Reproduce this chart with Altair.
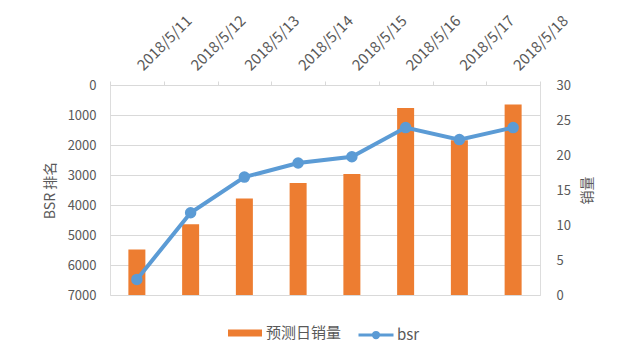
import altair as alt
import pandas as pd

dates = ["2018/5/11", "2018/5/12", "2018/5/13", "2018/5/14",
         "2018/5/15", "2018/5/16", "2018/5/17", "2018/5/18"]
sales = [6.5, 10.1, 13.8, 16.0, 17.3, 26.7, 22.1, 27.2]
bsr = [6480, 4260, 3070, 2600, 2390, 1420, 1820, 1420]
bar_name = "预测日销量"
line_name = "bsr"
bsr_ticks = [0, 1000, 2000, 3000, 4000, 5000, 6000, 7000]
sales_ticks = [0, 5, 10, 15, 20, 25, 30]

df = pd.DataFrame({"date": dates, "sales": sales, "bsr": bsr,
                   "s_bar": bar_name, "s_line": line_name})

FONT = "Noto Sans CJK SC"
GRAY = "#595959"
GRID = "#D9D9D9"
ORANGE = "#ED7D31"
BLUE = "#5B9BD5"

x_enc = alt.X("date:N", sort=dates,
              scale=alt.Scale(paddingInner=0, paddingOuter=0),
              axis=alt.Axis(orient="top", title=None, labelAngle=315,
                            labelAlign="left", labelBaseline="alphabetic",
                            tickBand="extent", tickColor=GRID, tickSize=4,
                            domainColor=GRID, labelColor=GRAY, labelFont=FONT,
                            labelFontSize=15, labelPadding=10, labelOffset=6))

bars = alt.Chart(df).mark_bar(width=17).encode(
    x=x_enc,
    y=alt.Y("sales:Q", scale=alt.Scale(domain=[0, 30], nice=False),
            axis=alt.Axis(orient="right", values=sales_ticks, title="销量",
                          titleAngle=270, grid=False, domain=False, ticks=False,
                          labelPadding=16, titlePadding=24,
                          labelColor=GRAY, labelFont=FONT, labelFontSize=13,
                          titleColor=GRAY, titleFont=FONT, titleFontSize=14,
                          titleFontWeight="normal")),
    fill=alt.Fill("s_bar:N", scale=alt.Scale(domain=[bar_name], range=[ORANGE]),
                  legend=alt.Legend(title=None, orient="none", legendX=118,
                                    legendY=231, padding=0,
                                    symbolType="M-1,-0.2H1V0.2H-1Z",
                                    symbolSize=1156, symbolStrokeWidth=0,
                                    labelFont=FONT, labelFontSize=15,
                                    labelColor=GRAY, labelOffset=4)),
)

line = alt.Chart(df).mark_line(
    strokeWidth=4,
    point=alt.OverlayMarkDef(filled=True, size=90, color=BLUE),
).encode(
    x=x_enc,
    y=alt.Y("bsr:Q", scale=alt.Scale(domain=[0, 7000], reverse=True, nice=False),
            axis=alt.Axis(orient="left", values=bsr_ticks, title="BSR 排名",
                          format="d",
                          grid=True, gridColor=GRID, domain=False, ticks=False,
                          labelPadding=14, titlePadding=10,
                          labelColor=GRAY, labelFont=FONT, labelFontSize=13,
                          titleColor=GRAY, titleFont=FONT, titleFontSize=14,
                          titleFontWeight="normal")),
    stroke=alt.Stroke("s_line:N", scale=alt.Scale(domain=[line_name], range=[BLUE]),
                      legend=alt.Legend(title=None, orient="none", legendX=247,
                                        legendY=231, padding=0,
                                        symbolType="M-1,0H1M0.15,0A0.15,0.15 0 1,1 -0.15,0A0.15,0.15 0 1,1 0.15,0",
                                        symbolSize=1225, symbolStrokeWidth=3,
                                        symbolFillColor=BLUE,
                                        labelFont=FONT, labelFontSize=15,
                                        labelColor=GRAY, labelOffset=2)),
)

chart = alt.layer(bars, line).resolve_scale(y="independent").properties(
    width=430, height=210,
    autosize=alt.AutoSizeParams(type="none"),
    padding={"left": 102, "top": 77, "right": 92, "bottom": 56},
).configure_view(stroke=None).configure(background="white")

chart.save("out.html", embed_options={"renderer": "svg", "actions": False})
